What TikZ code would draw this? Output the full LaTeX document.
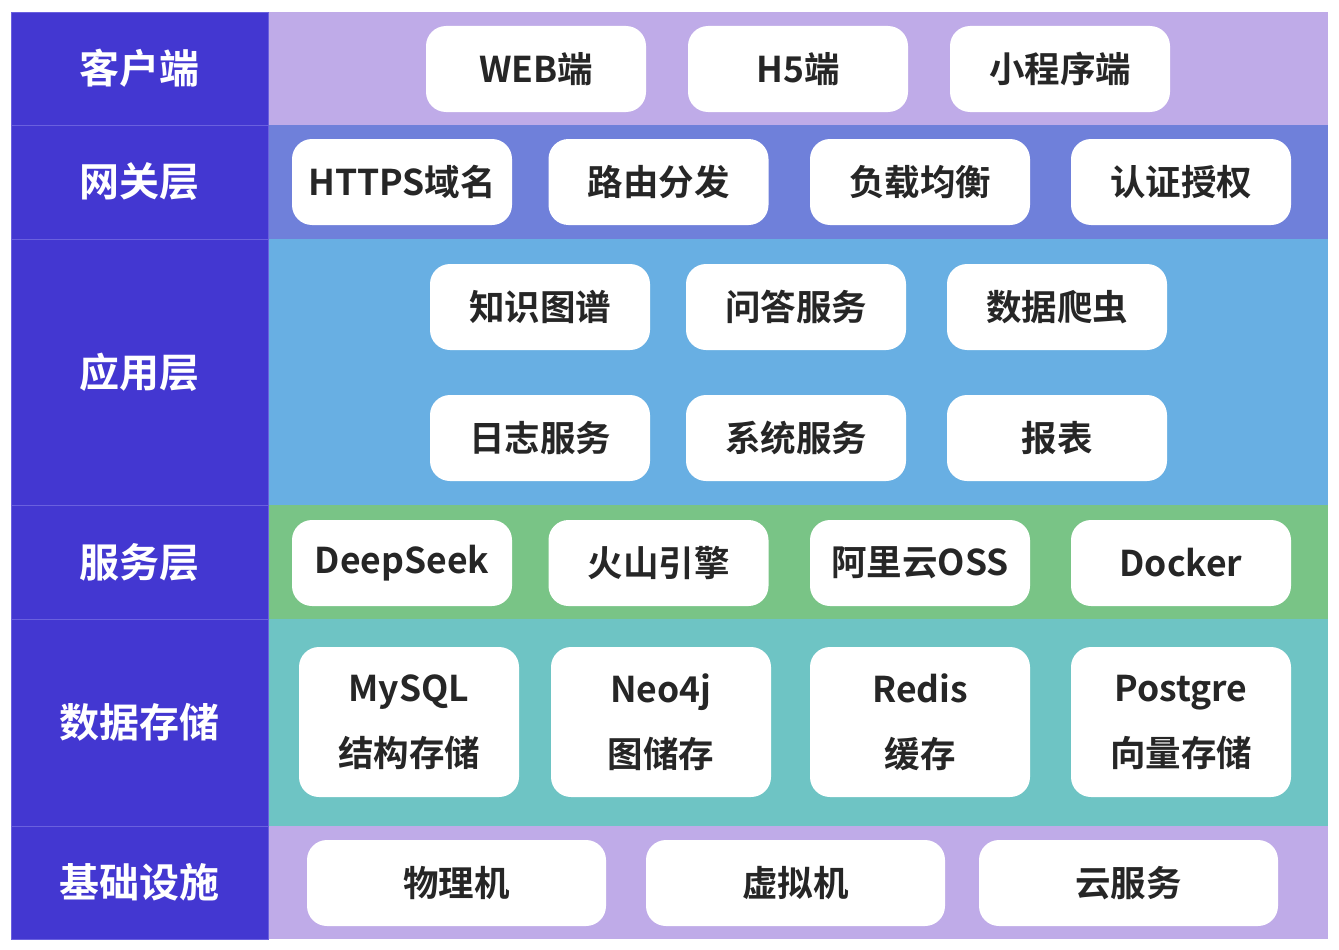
\documentclass[tikz,border=0pt]{standalone}
\usepackage{fontspec}
\setmainfont{Noto Sans CJK SC}[BoldFont={Noto Sans CJK SC Bold}]
\usepackage{xcolor}
\usetikzlibrary{positioning}

\definecolor{layerblue}{HTML}{4337D1}
\definecolor{layerline}{HTML}{6A60DE}
\definecolor{bandlav}{HTML}{BFABE8}
\definecolor{bandgate}{HTML}{6F80DA}
\definecolor{bandapp}{HTML}{68AFE3}
\definecolor{bandsvc}{HTML}{79C486}
\definecolor{banddata}{HTML}{6EC4C4}
\definecolor{itemtext}{HTML}{262626}

\begin{document}
\begin{tikzpicture}[x=1pt,y=-1pt,
    layer/.style={fill=layerblue, draw=layerline, line width=0.8pt, inner sep=0pt, outer sep=0pt,
      minimum width=256.5pt, text=white, font=\bfseries\fontsize{40}{48}\selectfont},
    item/.style={fill=white, rounded corners=20pt, inner sep=0pt, minimum width=220pt,
      minimum height=86pt, align=center, text=itemtext, font=\bfseries\fontsize{35.5}{65}\selectfont},
    wideitem/.style={item, minimum width=299pt}]
    \useasboundingbox (0,0) rectangle (1339,950);
    % Layer bands and their labels, top to bottom
    \foreach \row/\top/\bot/\col/\lab in {
        cli/12/125/bandlav/客户端,
        gate/125/239/bandgate/网关层,
        app/239/505/bandapp/应用层,
        svc/505/619/bandsvc/服务层,
        data/619/826/banddata/数据存储,
        infra/826/939/bandlav/基础设施} {
      \fill[\col] (268,\top) rectangle (1328,\bot);
      \node[layer, minimum height={\bot-\top}] (\row) at (139.75,{(\top+\bot)/2}) {\lab};
    }
    % Client layer
    \foreach \n/\x/\txt in {web/536/WEB端, h5/798/H5端, mini/1060/小程序端}
      \node[item] (\n) at (\x,69) {\txt};
    % Gateway layer
    \foreach \n/\x/\txt in {https/402/HTTPS域名, route/658.5/路由分发, lb/920/负载均衡, auth/1181/认证授权}
      \node[item] (\n) at (\x,182) {\txt};
    % Application layer, two rows
    \foreach \n/\x/\txt in {kg/540/知识图谱, qa/796/问答服务, crawl/1057/数据爬虫}
      \node[item] (\n) at (\x,307) {\txt};
    \foreach \n/\x/\txt in {log/540/日志服务, sys/796/系统服务, report/1057/报表}
      \node[item] (\n) at (\x,438) {\txt};
    % Service layer
    \foreach \n/\x/\txt in {ds/402/DeepSeek, volc/658.5/火山引擎, oss/920/阿里云OSS, docker/1181/Docker}
      \node[item] (\n) at (\x,563) {\txt};
    % Data storage
    \foreach \n/\x/\txt in {mysql/409/{MySQL\\结构存储}, neo/661/{Neo4j\\图储存},
        redis/920/{Redis\\缓存}, pg/1181/{Postgre\\向量存储}}
      \node[item, minimum height=150pt] (\n) at (\x,722) {\txt};
    % Infrastructure
    \foreach \n/\x/\txt in {phys/456.5/物理机, vm/795.5/虚拟机, cloud/1128.5/云服务}
      \node[wideitem] (\n) at (\x,883) {\txt};
\end{tikzpicture}
\end{document}
